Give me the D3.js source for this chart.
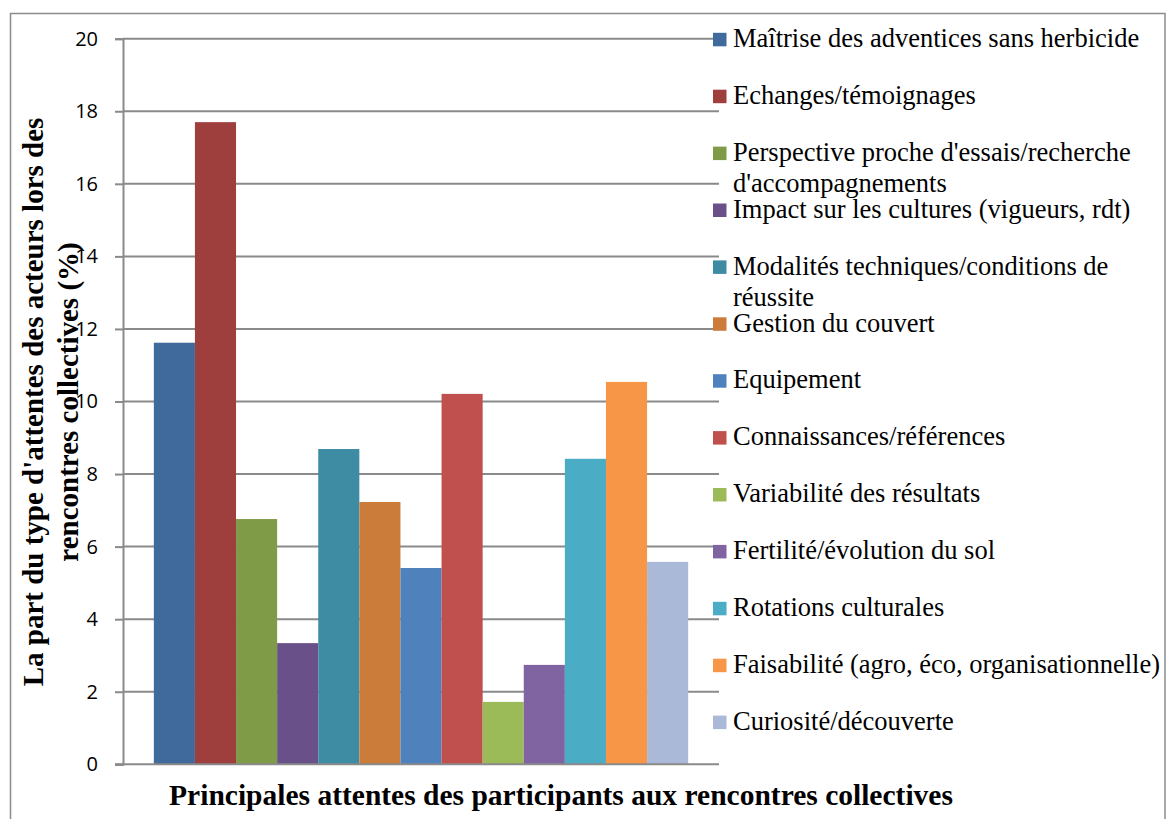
<!DOCTYPE html>
<html>
<head>
<meta charset="utf-8">
<script src="https://cdn.jsdelivr.net/npm/d3@7"></script>
<style>
  html, body { margin: 0; padding: 0; background: #ffffff; }
  svg { display: block; }
</style>
</head>
<body>
<svg id="chart" width="1166" height="819"></svg>
<script>
// ---- data ----
const seriesNames = [
  "Maîtrise des adventices sans herbicide",
  "Echanges/témoignages",
  "Perspective proche d'essais/recherche\nd'accompagnements",
  "Impact sur les cultures (vigueurs, rdt)",
  "Modalités techniques/conditions de\nréussite",
  "Gestion du couvert",
  "Equipement",
  "Connaissances/références",
  "Variabilité des résultats",
  "Fertilité/évolution du sol",
  "Rotations culturales",
  "Faisabilité (agro, éco, organisationnelle)",
  "Curiosité/découverte"
];
const seriesValues = [11.62, 17.70, 6.76, 3.34, 8.69, 7.23, 5.41, 10.21, 1.72, 2.74, 8.42, 10.54, 5.58];
const seriesColors = ["#416a9c", "#9e3f3e", "#809b48", "#6a5089", "#3d8ca3", "#cc7c3a",
                      "#4f81bd", "#c0504d", "#9bbb59", "#8064a2", "#4bacc6", "#f79646", "#aab9d7"];
const yTicks = [0, 2, 4, 6, 8, 10, 12, 14, 16, 18, 20];
const yTitleLines = ["La part du type d'attentes des acteurs lors des", "rencontres collectives (%)"];
const xTitle = "Principales attentes des participants aux rencontres collectives";

// ---- layout ----
const svg = d3.select("#chart");
const plot = { left: 123, right: 719, top: 38.7, bottom: 764.3 };
const gridColor = "#8a8a8a";
const serif = "'Liberation Serif', 'Times New Roman', serif";

// outer frame
svg.append("rect")
  .attr("x", 10.5).attr("y", 13.5)
  .attr("width", 1154.5).attr("height", 830)
  .attr("fill", "none").attr("stroke", "#8c8c8c").attr("stroke-width", 1.5);

const y = d3.scaleLinear().domain([0, 20]).range([plot.bottom, plot.top]);
const x = d3.scaleBand().domain(d3.range(seriesNames.length))
  .range([plot.left, plot.right]).paddingInner(0).paddingOuter(0.75);

// gridlines
svg.append("g").selectAll("line").data(yTicks.filter(d => d > 0)).join("line")
  .attr("x1", plot.left).attr("x2", plot.right)
  .attr("y1", d => y(d)).attr("y2", d => y(d))
  .attr("stroke", gridColor).attr("stroke-width", 2);

// y axis
const yAxis = d3.axisLeft(y).tickValues(yTicks).tickSize(8).tickPadding(17).tickFormat(d3.format("d"));
const gy = svg.append("g").attr("transform", `translate(${plot.left},0)`).call(yAxis);
gy.select(".domain").attr("stroke", gridColor).attr("stroke-width", 2);
gy.selectAll(".tick line").attr("stroke", gridColor).attr("stroke-width", 2);
gy.selectAll(".tick text")
  .attr("font-family", "'Open Sans', sans-serif")
  .attr("font-size", 20).attr("fill", "#000");

// bars
svg.append("g").selectAll("rect").data(seriesValues).join("rect")
  .attr("x", (d, i) => x(i))
  .attr("width", x.bandwidth())
  .attr("y", d => y(d))
  .attr("height", d => y(0) - y(d))
  .attr("fill", (d, i) => seriesColors[i]);

// x axis baseline
svg.append("line")
  .attr("x1", plot.left - 8).attr("x2", plot.right)
  .attr("y1", y(0)).attr("y2", y(0))
  .attr("stroke", gridColor).attr("stroke-width", 2);

// legend
const legStart = 39.5, legStep = 56.9;
const leg = svg.append("g");
seriesNames.forEach((name, i) => {
  const cy = legStart + i * legStep;
  leg.append("rect")
    .attr("x", 713).attr("y", cy - 6.7)
    .attr("width", 13.5).attr("height", 13.5)
    .attr("fill", seriesColors[i]);
  const t = leg.append("text")
    .attr("x", 733).attr("y", cy + 7.5)
    .attr("font-family", serif).attr("font-size", 26.5).attr("fill", "#000");
  name.split("\n").forEach((ln, j) => {
    t.append("tspan").attr("x", 733).attr("dy", j === 0 ? 0 : 31).text(ln);
  });
});

// y title
const yt = svg.append("text")
  .attr("transform", "translate(0,402) rotate(-90)")
  .attr("text-anchor", "middle")
  .attr("font-family", serif).attr("font-weight", "bold").attr("font-size", 29).attr("fill", "#000");
yTitleLines.forEach((ln, j) => {
  yt.append("tspan").attr("x", 0).attr("y", j === 0 ? 43 : 78).text(ln);
});

// x title
svg.append("text")
  .attr("x", 561).attr("y", 805)
  .attr("text-anchor", "middle")
  .attr("font-family", serif).attr("font-weight", "bold").attr("font-size", 29.5).attr("fill", "#000")
  .text(xTitle);
</script>
</body>
</html>
